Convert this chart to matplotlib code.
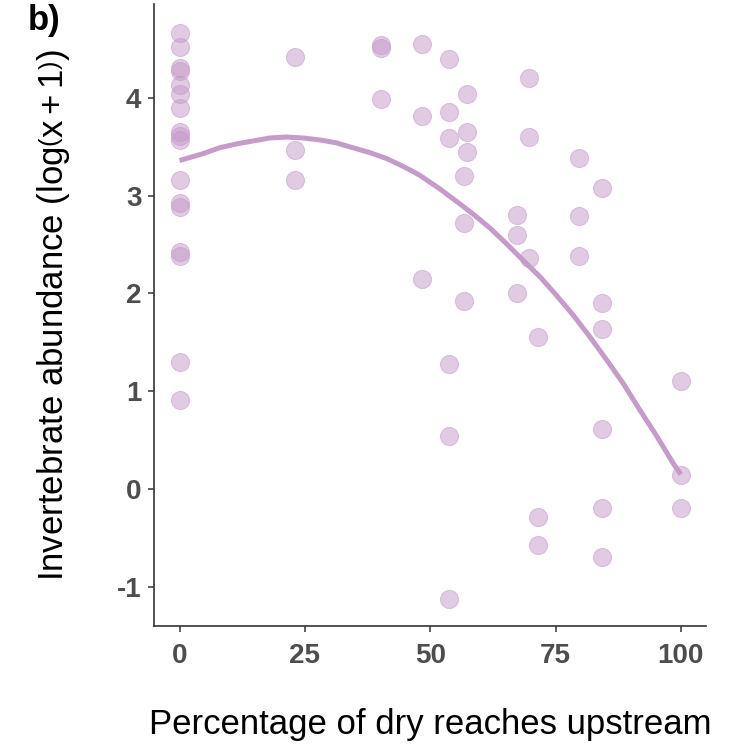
import matplotlib
matplotlib.use("Agg")
import matplotlib.pyplot as plt

plt.rcParams['font.family'] = ['Liberation Sans', 'DejaVu Sans']
plt.rcParams['mathtext.fontset'] = 'custom'
plt.rcParams['mathtext.rm'] = 'Liberation Sans'
plt.rcParams['mathtext.it'] = 'Liberation Sans'
plt.rcParams['axes.unicode_minus'] = False

# Percentage of dry reaches upstream for each site
dry_pct = [0] * 17 + [23.1] * 3 + [40.1] * 3 + [48.3] * 3 + [53.7] * 6 + \
          [56.8] * 3 + [57.4] * 3 + [67.3] * 3 + [69.7] * 3 + [71.4] * 3 + \
          [79.7] * 3 + [84.3] * 6 + [100] * 3

# Invertebrate abundance, log(x+1)
abundance = [4.66, 4.52, 4.31, 4.28, 4.13, 4.04, 3.90, 3.65, 3.61, 3.57, 3.16,
             2.93, 2.88, 2.42, 2.38, 1.30, 0.91,
             4.42, 3.47, 3.16,
             4.54, 4.51, 3.99,
             4.55, 3.82, 2.15,
             4.40, 3.86, 3.59, 1.28, 0.54, -1.12,
             3.20, 2.72, 1.92,
             4.04, 3.65, 3.45,
             2.80, 2.60, 2.01,
             4.20, 3.60, 2.36,
             1.56, -0.29, -0.57,
             3.39, 2.79, 2.38,
             3.08, 1.90, 1.64, 0.61, -0.19, -0.69,
             1.10, 0.14, -0.19]

# Fitted trend
fit_x = [0, 4.7, 8.0, 11.4, 14.7, 18.0, 21.3, 24.7, 28.0, 31.3, 34.6, 38.0,
         41.3, 44.6, 47.9, 51.9, 55.3, 58.6, 61.9, 65.2, 68.5, 71.9, 75.2,
         78.5, 81.8, 85.2, 88.5, 91.8, 95.2, 98.5, 100]
fit_y = [3.36, 3.43, 3.49, 3.53, 3.56, 3.59, 3.60, 3.59, 3.57, 3.54, 3.49,
         3.44, 3.38, 3.30, 3.21, 3.07, 2.94, 2.81, 2.67, 2.51, 2.34, 2.17,
         1.98, 1.78, 1.56, 1.32, 1.08, 0.81, 0.54, 0.26, 0.15]

x_ticks = [0, 25, 50, 75, 100]
y_ticks = [-1, 0, 1, 2, 3, 4]

fig = plt.figure(figsize=(7.29, 7.46), dpi=100)
ax = fig.add_axes([0.2112, 0.1609, 0.7572, 0.8337])

purple = '#C499C9'
ax.scatter(dry_pct, abundance, s=170, facecolor=purple, edgecolor=purple,
           linewidth=0.8, alpha=0.5, zorder=2)
ax.plot(fit_x, fit_y, color='#C49BC9', linewidth=3.6, solid_capstyle='butt',
        solid_joinstyle='round', zorder=3)

ax.set_xlim(-5.1, 105)
ax.set_ylim(-1.40, 4.96)
ax.set_xticks(x_ticks)
ax.set_yticks(y_ticks)

for side in ['top', 'right']:
    ax.spines[side].set_visible(False)
for side in ['left', 'bottom']:
    ax.spines[side].set_color('#333333')
    ax.spines[side].set_linewidth(1.2)

ax.tick_params(axis='both', colors='#333333', length=4, width=1.1,
               labelsize=20, labelcolor='#4D4D4D')
for lab in ax.get_xticklabels() + ax.get_yticklabels():
    lab.set_fontweight('bold')
ax.tick_params(axis='x', pad=8)
ax.tick_params(axis='y', pad=5)

ax.set_xlabel('Percentage of dry reaches upstream', fontsize=25, labelpad=28,
              color='black')
ax.set_ylabel(r'Invertebrate abundance $\left(\mathrm{log}\left(\mathrm{x+1}\right)\right)$',
              fontsize=25, labelpad=32, color='black')

fig.text(0.038, 0.972, 'b)', fontsize=25, fontweight='bold', ha='left',
         va='center')

fig.savefig('out.png', dpi=100)
